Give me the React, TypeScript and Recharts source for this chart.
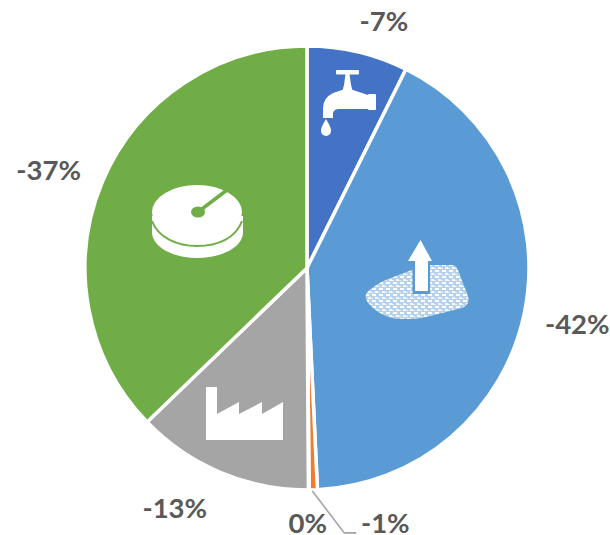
import { PieChart, Pie, Cell } from 'recharts';

const categories = ['Tap', 'Groundwater', 'Other', 'Zero', 'Industry', 'Metered'];
const values = [7.35, 41.9, 0.6, 0.05, 12.9, 37.2];
const valueLabels = ['-7%', '-42%', '-1%', '0%', '-13%', '-37%'];
const colors = ['#4472C4', '#5B9BD5', '#ED7D31', '#FFFFFF', '#A5A5A5', '#70AD47'];
// offset of each label from the slice's outer edge
const labelShift = [
  [26, -31], [53, 10], [72, 33], [-1, 33], [-46, 35], [-54, -12],
];

const data = categories.map((name, i) => ({ name, value: values[i] }));
const RAD = Math.PI / 180;

function renderLabel(props: any) {
  const { cx, cy, midAngle, outerRadius, index } = props;
  const px = cx + outerRadius * Math.cos(-midAngle * RAD);
  const py = cy + outerRadius * Math.sin(-midAngle * RAD);
  const [dx, dy] = labelShift[index];
  return (
    <g key={index}>
      {index === 2 && (
        <polyline
          points={`${px - 1},${py + 1} ${px + 31},${py + 43} ${px + 43},${py + 43}`}
          fill="none" stroke="#A5A5A5" strokeWidth={1.6}
        />
      )}
      <text x={px + dx} y={py + dy} textAnchor="middle" dominantBaseline="central"
        fontFamily="Lato, sans-serif" fontWeight={700} fontSize={27.5} fill="#595959">
        {valueLabels[index]}
      </text>
    </g>
  );
}

// white pictograms sitting on the slices
function Icons() {
  return (
    <svg width={610} height={535} style={{ position: 'absolute', left: 0, top: 0, pointerEvents: 'none' }}>
      <defs>
        <pattern id="dither" width="7" height="6" patternUnits="userSpaceOnUse">
          <rect width="7" height="6" fill="#B5D1EC" />
          <rect x="1" y="0" width="4" height="2" fill="#FFFFFF" />
          <rect x="4" y="3" width="3" height="2" fill="#F2F7FC" />
          <rect x="0" y="4" width="2" height="1" fill="#E6F0F9" />
        </pattern>
      </defs>
      {/* tap */}
      <g fill="#fff">
        <rect x="336" y="70" width="23" height="4.500" rx="1" />
        <path d="M345.500 74 L349.500 74 L351 85 L353 92 L342 92 L344 85 Z" />
        <path d="M368 95 L353 90 L342 90 L333 93 Q323 98 323 108 L323 118 L333 118 L333 113 Q334 109 339 109 L368 109 Z" />
        <rect x="368" y="94" width="8" height="16" rx="1" />
        <path d="M326 119 Q320.500 128 321 131 A5 5 0 0 0 331 131 Q331.500 128 326 119 Z" />
      </g>
      {/* pond and arrow */}
      <path d="M367 292 Q376 284 388 279 L412 270 Q420 265 430 265 L452 265 Q456 265 458 270 L468 296 Q471 304 462 308 L422 318 Q405 320 392 318 Q378 314 370 305 Q363 298 367 292 Z"
        fill="url(#dither)" />
      <rect x="412.500" y="258" width="17.500" height="36" fill="#5B9BD5" />
      <path d="M420.500 240 L432 261 L428 261 L428 291 L415 291 L415 261 L408 261 Z" fill="#fff" />
      {/* meter */}
      <path d="M152 216 L152 232 C152 248 175 258 197 258 C220 258 243 248 243 232 L243 216 Z" fill="#fff" />
      <path d="M152 221 C158 238 178 246 197 246 C218 246 236 238 242 221" fill="none" stroke="#70AD47" strokeWidth={2} />
      <ellipse cx="197" cy="212" rx="45" ry="27" fill="#fff" />
      <line x1="198" y1="212" x2="227" y2="190" stroke="#70AD47" strokeWidth={3.5} />
      <ellipse cx="198" cy="212" rx="7" ry="5.500" fill="#70AD47" />
      {/* factory */}
      <path d="M206 387 L217 387 L217 414 L239 402 L239 414 L262 402 L262 414 L283 402 L283 440 L206 440 Z" fill="#fff" />
    </svg>
  );
}

export default function App() {
  return (
    <div style={{ position: 'absolute', left: 0, top: 0, width: 610, height: 535 }}>
      <PieChart width={610} height={535} margin={{ top: 0, right: 0, bottom: 0, left: 0 }}>
        <Pie
          data={data}
          dataKey="value"
          cx={307}
          cy={268}
          innerRadius={0}
          outerRadius={222}
          startAngle={90}
          endAngle={-270}
          stroke="#fff"
          strokeWidth={3.5}
          label={renderLabel}
          labelLine={false}
          isAnimationActive={false}
        >
          {colors.map((c, i) => <Cell key={i} fill={c} />)}
        </Pie>
      </PieChart>
      <Icons />
    </div>
  );
}
